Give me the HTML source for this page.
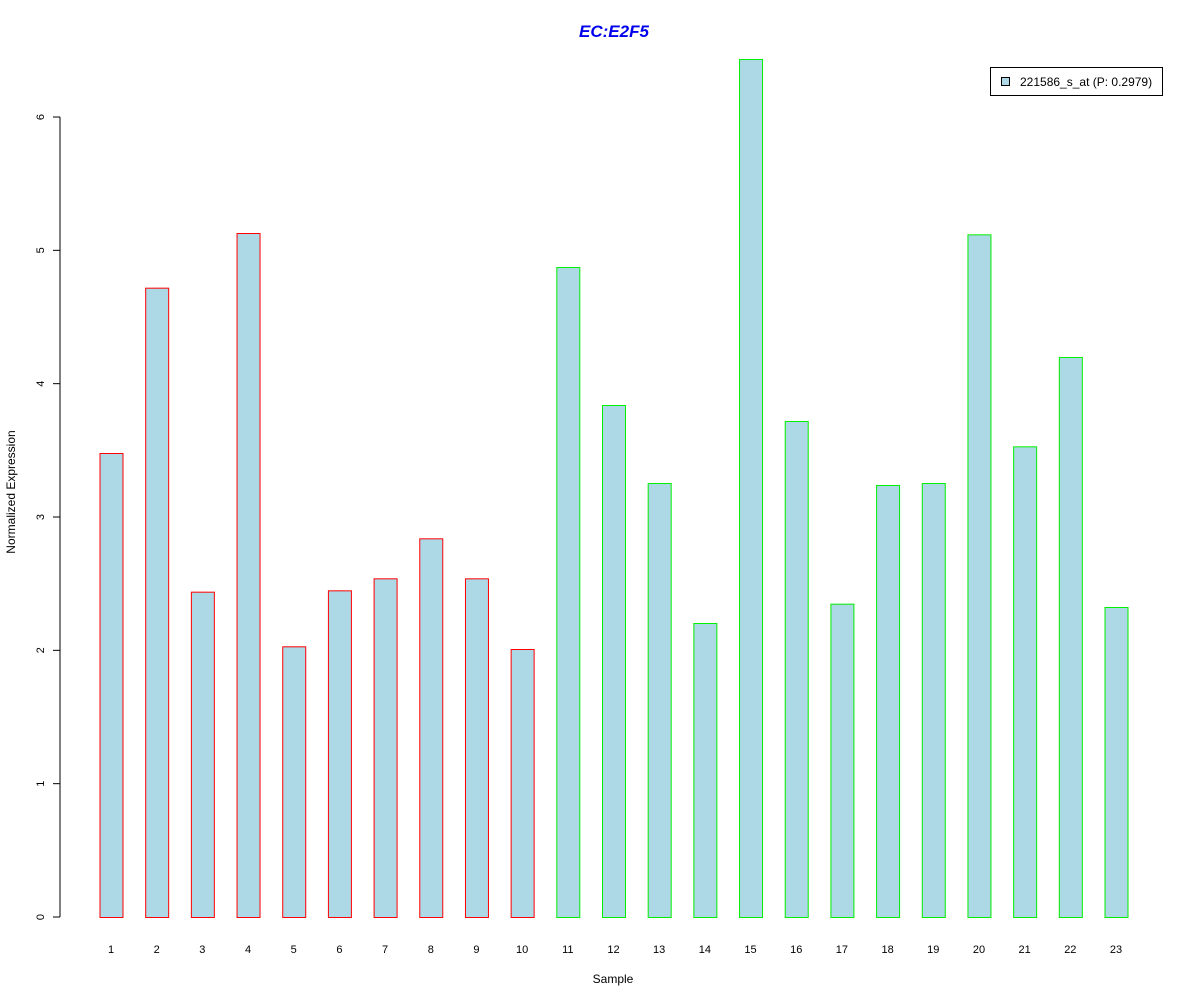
<!DOCTYPE html>
<html><head><meta charset="utf-8"><style>body{margin:0;background:#fff}svg{display:block;font-family:"Liberation Sans",Arial,sans-serif}</style></head>
<body>
<svg id="chart" width="1200" height="1000" xmlns="http://www.w3.org/2000/svg">
<rect width="1200" height="1000" fill="#fff"/>
<text x="614" y="37" text-anchor="middle" font-size="17" font-weight="bold" font-style="italic" fill="#0000ee">EC:E2F5</text>
<text x="613" y="983" text-anchor="middle" font-size="12">Sample</text>
<text transform="translate(15,492) rotate(-90)" text-anchor="middle" font-size="12">Normalized Expression</text>
<line x1="60" y1="917" x2="60" y2="117" stroke="#000"/>
<g id="yticks"></g>
<g id="bars"></g>
<g id="xlabels"></g>
<g>
<rect x="990.5" y="67.5" width="172" height="28" fill="#fff" stroke="#000"/>
<rect x="1001.5" y="77.5" width="8" height="8" fill="#add8e6" stroke="#000"/>
<text x="1020" y="86" font-size="12">221586_s_at (P: 0.2979)</text>
</g>
</svg>
<script>
const categories=["1","2","3","4","5","6","7","8","9","10","11","12","13","14","15","16","17","18","19","20","21","22","23"];
const values=[3.48,4.72,2.44,5.13,2.03,2.45,2.54,2.84,2.54,2.01,4.875,3.84,3.255,2.205,6.435,3.72,2.35,3.24,3.255,5.12,3.53,4.2,2.325];
const groups=["a","a","a","a","a","a","a","a","a","a","b","b","b","b","b","b","b","b","b","b","b","b","b"];
const yTicks=[0,1,2,3,4,5,6];
const NS="http://www.w3.org/2000/svg";
const y=v=>917-v*(800/6);
const x=i=>111+i*(1005/22);
const bw=23;
function mk(t,a){const e=document.createElementNS(NS,t);for(const k in a)e.setAttribute(k,a[k]);return e;}
const yt=document.getElementById('yticks');
yTicks.forEach(v=>{
 const l=mk('line',{x1:53,x2:60,y1:y(v),y2:y(v),stroke:'#000'});
 
 
 yt.appendChild(l);
 const t=mk('text',{transform:`translate(44,${y(v)}) rotate(-90)`,'text-anchor':'middle','font-size':11});
 
 
 t.textContent=v;yt.appendChild(t);
});
const bg=document.getElementById('bars'),xl=document.getElementById('xlabels');
values.forEach((v,i)=>{
 const r=mk('rect',{x:x(i)-bw/2+0.5,y:y(v)+0.5,width:bw,height:y(0)-y(v),fill:'#add8e6',stroke:groups[i]==='a'?'#ff0000':'#00ee00'});
 
 
 bg.appendChild(r);
 const t=mk('text',{x:x(i),y:953,'text-anchor':'middle','font-size':11});
 
 
 t.textContent=categories[i];xl.appendChild(t);
});
</script>
</body></html>
